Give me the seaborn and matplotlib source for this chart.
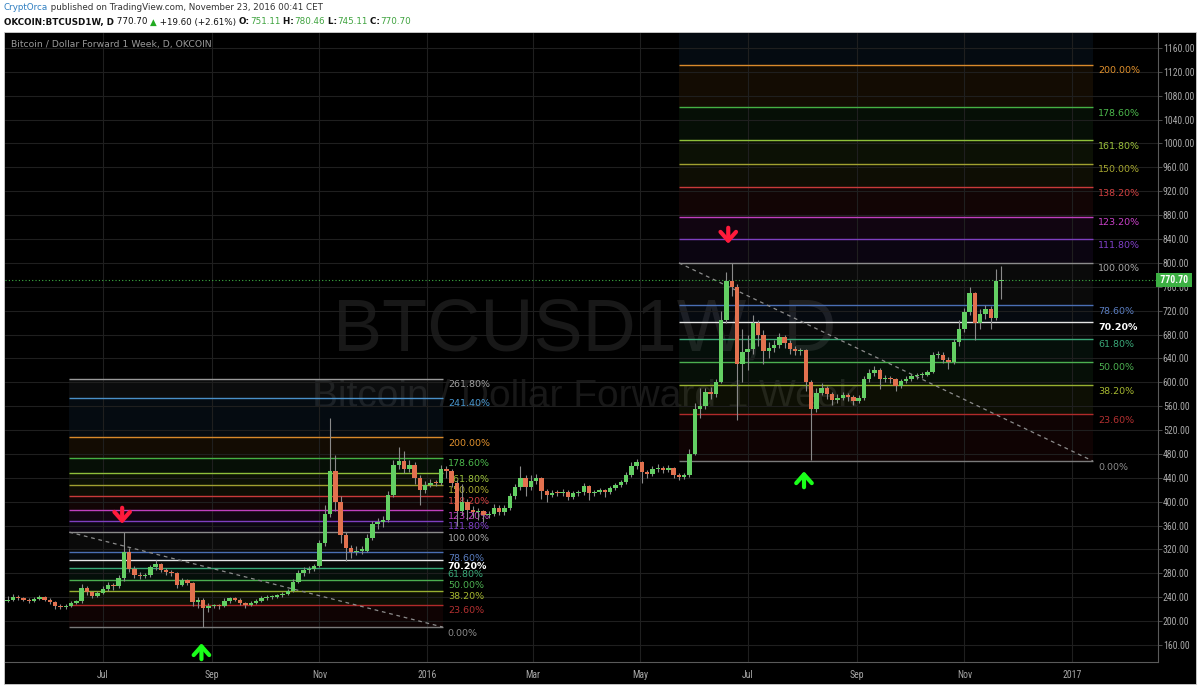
import matplotlib
matplotlib.use("Agg")
import matplotlib.pyplot as plt
import matplotlib.dates as mdates
import matplotlib.transforms as mtransforms
from matplotlib.patches import Rectangle
from matplotlib import font_manager
import numpy as np
import pandas as pd
import seaborn as sns

# ---------------- data ----------------
start_date = "2015-05-08"
step_days = 3
first_open = 234
close = [
    236, 240, 238, 236, 234, 237, 240, 236, 232, 225,
    224, 226, 230, 233, 255, 248, 242, 247, 254, 260,
    258, 272, 316, 288, 278, 276, 277, 290, 296, 286,
    282, 281, 260, 269, 264, 232, 236, 222, 225, 226,
    225, 234, 238, 236, 230, 227, 230, 234, 238, 240,
    241, 243, 245, 250, 266, 281, 285, 287, 292, 330,
    380, 452, 400, 345, 322, 316, 318, 318, 340, 362,
    366, 370, 412, 462, 468, 455, 462, 440, 420, 428,
    432, 431, 455, 452, 432, 385, 400, 386, 382, 384,
    378, 380, 390, 382, 390, 410, 425, 440, 425, 435,
    440, 418, 412, 415, 414, 416, 408, 414, 416, 426,
    414, 416, 419, 416, 423, 428, 433, 445, 460, 466,
    450, 446, 455, 457, 453, 456, 445, 441, 444, 480,
    555, 560, 584, 580, 600, 705, 770, 760, 630, 650,
    655, 700, 680, 652, 658, 662, 676, 665, 656, 652,
    654, 600, 555, 582, 590, 580, 570, 574, 578, 575,
    568, 574, 605, 616, 620, 606, 607, 606, 594, 602,
    605, 610, 612, 613, 617, 645, 646, 638, 634, 667,
    690, 718, 750, 700, 714, 722, 708, 770, 770.70,
]
high = [
    242, 245, 243, 240, 238, 240, 244, 242, 238, 234,
    228, 229, 233, 236, 262, 258, 250, 250, 258, 266,
    264, 278, 349, 322, 292, 282, 281, 294, 302, 298,
    289, 285, 283, 273, 271, 266, 240, 238, 230, 229,
    229, 238, 241, 240, 238, 232, 233, 237, 242, 243,
    244, 246, 248, 254, 270, 286, 290, 292, 296, 336,
    395, 540, 478, 410, 350, 328, 325, 326, 346, 368,
    372, 376, 418, 470, 492, 485, 470, 466, 445, 434,
    438, 437, 462, 460, 455, 436, 430, 405, 392, 390,
    386, 385, 396, 394, 394, 414, 430, 460, 444, 444,
    447, 442, 422, 420, 419, 421, 419, 418, 420, 432,
    428, 420, 423, 422, 427, 432, 436, 450, 466, 472,
    468, 453, 460, 463, 460, 461, 458, 448, 448, 488,
    565, 590, 590, 592, 605, 720, 785, 800, 765, 690,
    680, 712, 705, 688, 668, 670, 682, 680, 670, 660,
    658, 656, 604, 590, 598, 594, 584, 580, 584, 582,
    578, 578, 610, 622, 628, 624, 612, 611, 608, 606,
    610, 614, 616, 618, 621, 650, 652, 650, 642, 672,
    705, 725, 760, 752, 722, 730, 728, 790, 795,
]
low = [
    232, 234, 235, 233, 230, 232, 235, 233, 228, 220,
    220, 221, 224, 228, 231, 244, 238, 240, 245, 250,
    252, 255, 268, 282, 272, 270, 272, 274, 286, 282,
    278, 276, 256, 258, 260, 225, 222, 190, 215, 222,
    221, 223, 231, 233, 227, 222, 225, 228, 232, 236,
    237, 239, 241, 243, 248, 263, 276, 280, 284, 290,
    326, 375, 385, 330, 300, 305, 310, 312, 315, 336,
    355, 358, 366, 408, 455, 448, 450, 430, 395, 414,
    424, 426, 428, 440, 425, 360, 378, 370, 372, 370,
    366, 372, 376, 378, 378, 386, 404, 420, 410, 420,
    430, 405, 400, 408, 409, 410, 402, 404, 410, 412,
    402, 410, 413, 408, 413, 420, 425, 430, 442, 455,
    432, 440, 443, 450, 448, 450, 440, 436, 438, 442,
    478, 540, 555, 572, 576, 598, 700, 745, 537, 600,
    620, 648, 660, 630, 640, 650, 658, 658, 648, 646,
    645, 585, 470, 550, 578, 572, 562, 565, 570, 568,
    562, 565, 570, 600, 610, 588, 600, 598, 585, 590,
    598, 602, 606, 608, 610, 615, 640, 632, 622, 630,
    660, 685, 712, 670, 690, 706, 690, 705, 740,
]
last_price = 770.70

tick_dates = ["2015-07-01", "2015-09-01", "2015-11-01", "2016-01-01", "2016-03-01",
              "2016-05-01", "2016-07-01", "2016-09-01", "2016-11-01", "2017-01-01"]
tick_labels = ["Jul", "Sep", "Nov", "2016", "Mar", "May", "Jul", "Sep", "Nov", "2017"]
price_ticks = list(range(160, 1161, 40))

fib_ratios = [0.0, 0.236, 0.382, 0.5, 0.618, 0.702, 0.786, 1.0, 1.118, 1.232,
              1.382, 1.5, 1.618, 1.786, 2.0, 2.414, 2.618]
fib_texts = ["0.00%", "23.60%", "38.20%", "50.00%", "61.80%", "70.20%", "78.60%",
             "100.00%", "111.80%", "123.20%", "138.20%", "150.00%", "161.80%",
             "178.60%", "200.00%", "241.40%", "261.80%"]
fib_colors = ["#7a7a7a", "#b02a2a", "#98b030", "#4caf50", "#3aa878", "#e6e6e6",
              "#4a6fb5", "#8c8c8c", "#7e3fc0", "#c040c0", "#c83a3a", "#a0a030",
              "#8fbf3a", "#45b045", "#d98a2b", "#4a90c8", "#9a9a9a"]
fib_fill_colors = ["#7a7a7a", "#b02a2a", "#98b030", "#4caf50", "#3aa878", "#606060",
                   "#4a6fb5", "#707070", "#7e3fc0", "#c040c0", "#c83a3a", "#a0a030",
                   "#8fbf3a", "#45b045", "#d98a2b", "#3a80c0", "#7a8a9a"]
fib_text_colors = ["#8a8a8a", "#b33030", "#a6b830", "#4caf50", "#3aa878", "#ffffff",
                   "#5a7dc0", "#a8a8a8", "#8040c8", "#c840c8", "#d04040", "#a8a830",
                   "#9cc23c", "#4cb84c", "#e0902c", "#4a98d0", "#a0a0a0"]
fib_text_bold = ["70.20%"]

# (start, end, price at 0 %, price at 100 %)
fib_left = ("2015-06-12", "2016-01-10", 190.0, 349.0)
fib_right = ("2016-05-23", "2017-01-13", 468.0, 800.0)

down_arrow_dates = ["2015-07-12", "2016-06-20"]
down_arrow_prices = [363, 832]
up_arrow_dates = ["2015-08-26", "2016-08-02"]
up_arrow_prices = [163, 451]

header_line1 = [("CryptOrca", "#2f7fc1", "normal"),
                (" published on TradingView.com, November 23, 2016 00:41 CET", "#333333", "normal")]
header_line2 = [("OKCOIN:BTCUSD1W, D", "#111111", "bold"),
                (" 770.70 ", "#111111", "normal"),
                ("\u25B2", "#22aa22", "normal"),
                (" +19.60 (+2.61%) ", "#111111", "normal"),
                ("O:", "#111111", "bold"), ("751.11", "#3fa33f", "normal"),
                (" H:", "#111111", "bold"), ("780.46", "#3fa33f", "normal"),
                (" L:", "#111111", "bold"), ("745.11", "#3fa33f", "normal"),
                (" C:", "#111111", "bold"), ("770.70", "#3fa33f", "normal")]
chart_title = "Bitcoin / Dollar Forward 1 Week, D, OKCOIN"
watermark_1 = "BTCUSD1W, D"
watermark_2 = "Bitcoin / Dollar Forward 1 Week"

# ---------------- style ----------------
UP = "#63cf63"
DOWN = "#e2714f"
WICK = "#8a8a8a"
GRID = "#1f1f1f"
AXC = "#5a5a5a"

sns.set_theme(style="dark")
plt.rcParams["font.family"] = ["DejaVu Sans"]

installed = {f.name for f in font_manager.fontManager.ttflist}
NARROW = "DejaVu Sans"
for cand in ["Liberation Sans Narrow", "Arial Narrow", "Roboto Condensed",
             "PT Sans Narrow", "Archivo Narrow", "Asap Condensed"]:
    if cand in installed:
        NARROW = cand
        break

W, H = 1200, 687
fig = plt.figure(figsize=(W / 100, H / 100), dpi=100, facecolor="#ffffff")
fig.patches.append(Rectangle((4 / W, 3 / H), 1192 / W, 652 / H, transform=fig.transFigure,
                             facecolor="#000000", edgecolor="#cfcfcf", lw=0.6, zorder=-5))

ax = fig.add_axes([5 / W, 1 - 662 / H, (1158 - 5) / W, (662 - 33) / H])
ax.set_facecolor("#000000")
ax.set_zorder(1)

# candles
dates = pd.date_range(start_date, periods=len(close), freq=f"{step_days}D")
opens = [first_open] + close[:-1]
df = pd.DataFrame({"date": dates, "open": opens, "high": high, "low": low, "close": close})
df["x"] = mdates.date2num(df["date"])
df["up"] = df["close"] >= df["open"]
body_lo = np.minimum(df["open"], df["close"])
body_h = (df["close"] - df["open"]).abs().clip(lower=2.0)
ax.vlines(df["x"], df["low"], df["high"], color=WICK, lw=0.8, zorder=4)
ax.bar(df["x"], body_h, bottom=body_lo, width=2.5,
       color=np.where(df["up"], UP, DOWN), lw=0, zorder=5)

# watermark
ax.text(0.503, 0.496, watermark_1, transform=ax.transAxes, ha="center", va="baseline",
        fontsize=53, family=["Liberation Sans", "DejaVu Sans"], color="#181818", zorder=0.3)
ax.text(0.503, 0.405, watermark_2, transform=ax.transAxes, ha="center", va="baseline",
        fontsize=28, family=["Liberation Sans", "DejaVu Sans"], color="#181818", zorder=0.3)

# fibonacci tools
def draw_fib(spec):
    s, e, p0, p1 = spec
    x0, x1 = mdates.date2num(pd.Timestamp(s)), mdates.date2num(pd.Timestamp(e))
    levels = [p0 + r * (p1 - p0) for r in fib_ratios]
    for i in range(1, len(levels)):
        ax.fill_between([x0, x1], levels[i - 1], levels[i], color=fib_fill_colors[i],
                        alpha=0.09, lw=0, zorder=0.5)
    ax.hlines(levels, x0, x1, colors=fib_colors, lw=1.0, zorder=1)
    for lv, t, tc in zip(levels, fib_texts, fib_text_colors):
        ax.annotate(t, xy=(x1, lv), xytext=(5, -6), textcoords="offset pixels",
                    ha="left", va="center", color=tc, fontsize=6.8,
                    fontweight="bold" if t in fib_text_bold else "normal",
                    annotation_clip=True, zorder=2)
    diag = pd.DataFrame({"x": [x0, x1], "y": [p1, p0]})
    sns.lineplot(data=diag, x="x", y="y", ax=ax, color="#8c8c8c", lw=0.9,
                 linestyle=(0, (3, 3)), legend=False, zorder=3)

draw_fib(fib_left)
draw_fib(fib_right)

# last price
ax.axhline(last_price, color="#3cb043", lw=0.8, ls=(0, (1, 2)), zorder=3)
trans = mtransforms.blended_transform_factory(ax.transAxes, ax.transData)
ax.text(1.0, last_price, f" {last_price:.2f} ", transform=trans, ha="left", va="center",
        fontsize=7.0, family=NARROW, fontweight="bold", color="white", clip_on=False,
        bbox=dict(boxstyle="square,pad=0.2", fc="#3cb043", ec="none"), zorder=10)

# arrows
for d, p in zip(down_arrow_dates, down_arrow_prices):
    ax.annotate("", xy=(mdates.date2num(pd.Timestamp(d)), p), xytext=(0, 16),
                textcoords="offset pixels",
                arrowprops=dict(arrowstyle="->,head_length=0.45,head_width=0.4",
                                color="#ff1a3c", lw=3, mutation_scale=14,
                                shrinkA=0, shrinkB=0), zorder=8)
for d, p in zip(up_arrow_dates, up_arrow_prices):
    ax.annotate("", xy=(mdates.date2num(pd.Timestamp(d)), p), xytext=(0, -16),
                textcoords="offset pixels",
                arrowprops=dict(arrowstyle="->,head_length=0.45,head_width=0.4",
                                color="#1aff1a", lw=3, mutation_scale=14,
                                shrinkA=0, shrinkB=0), zorder=8)

# axes
ax.set_xlim(mdates.date2num(pd.Timestamp("2015-05-06 12:00")),
            mdates.date2num(pd.Timestamp("2017-02-18 22:00")))
ax.set_ylim(131.5, 1185)
ax.set_xticks([mdates.date2num(pd.Timestamp(d)) for d in tick_dates])
ax.set_xticklabels(tick_labels)
ax.set_yticks(price_ticks)
ax.set_yticklabels([f"{v:.2f}" for v in price_ticks])
ax.yaxis.tick_right()
ax.grid(True, color=GRID, lw=0.8, zorder=0.1)
ax.set_axisbelow(True)
ax.set_xlabel("")
ax.set_ylabel("")
for side in ["top", "left"]:
    ax.spines[side].set_visible(False)
for side in ["right", "bottom"]:
    ax.spines[side].set_visible(True)
    ax.spines[side].set_color(AXC)
    ax.spines[side].set_linewidth(0.8)
ax.tick_params(axis="y", which="both", right=True, left=False, length=3, width=0.6,
               color=AXC, labelcolor="#a8a8a8", labelsize=7.0, pad=0.5)
ax.tick_params(axis="x", which="both", bottom=False, length=0, labelcolor="#a8a8a8",
               labelsize=7.0, pad=6)
for t in ax.get_yticklabels() + ax.get_xticklabels():
    t.set_fontfamily(NARROW)

ax.annotate(chart_title, xy=(0, 1), xycoords="axes fraction", xytext=(6, -12),
            textcoords="offset pixels", ha="left", va="center", color="#9a9a9a",
            fontsize=6.7, zorder=10)

# header
renderer = fig.canvas.get_renderer()

def seq_text(x_px, y_px, parts, size):
    x = x_px
    for s, c, w in parts:
        t = fig.text(x / W, 1 - y_px / H, s, color=c, fontweight=w, fontsize=size,
                     ha="left", va="center")
        x = t.get_window_extent(renderer).x1

seq_text(4, 8, header_line1, 6.3)
seq_text(4, 22, header_line2, 6.3)

fig.savefig("out.png", dpi=100, facecolor=fig.get_facecolor())
